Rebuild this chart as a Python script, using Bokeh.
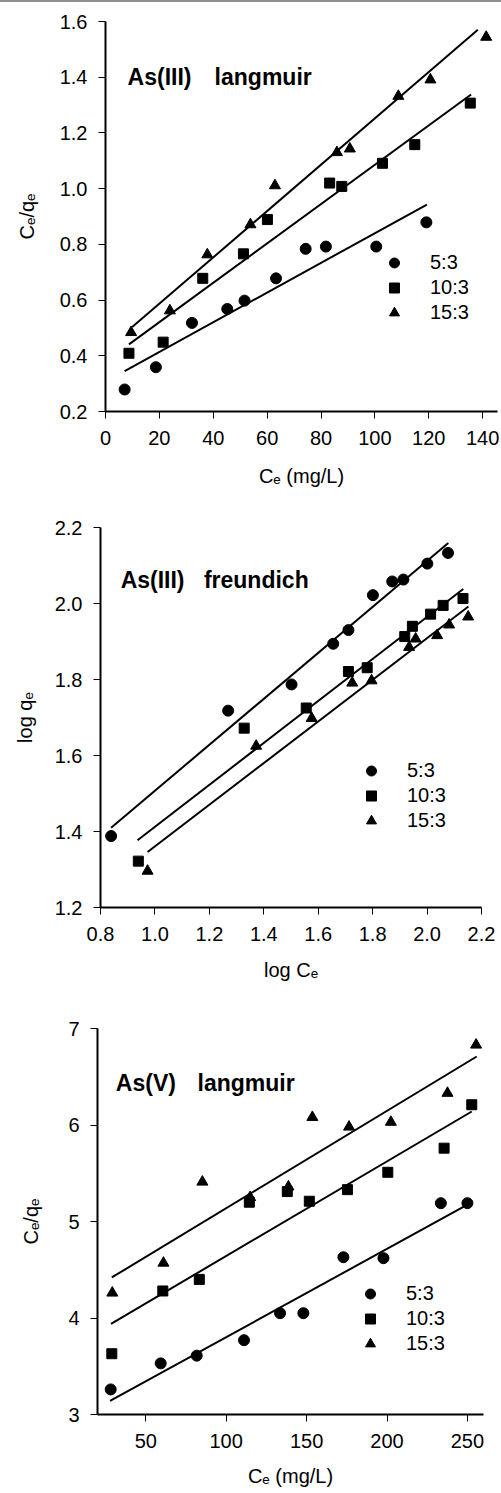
from bokeh.plotting import figure
from bokeh.models import Range1d, FixedTicker, NumeralTickFormatter, Legend, LegendItem, Label, Div
from bokeh.embed import file_html
from bokeh.resources import INLINE

FONT = "Liberation Sans"
SERIES = ["5:3", "10:3", "15:3"]

# ---- As(III) Langmuir: Ce vs Ce/qe ----
l3_ci_x = [7.1, 18.7, 32.1, 45.2, 51.6, 63.3, 74.3, 81.8, 100.5, 119.1]
l3_ci_y = [0.279, 0.359, 0.518, 0.568, 0.598, 0.678, 0.784, 0.792, 0.792, 0.879]
l3_sq_x = [8.7, 21.4, 36.1, 51.2, 60.1, 83.2, 87.7, 102.8, 114.8, 135.4]
l3_sq_y = [0.409, 0.449, 0.678, 0.766, 0.889, 1.020, 1.008, 1.091, 1.158, 1.307]
l3_tr_x = [9.5, 23.9, 37.8, 53.8, 62.9, 85.9, 90.7, 108.7, 120.6, 141.3]
l3_tr_y = [0.484, 0.562, 0.763, 0.871, 1.011, 1.130, 1.143, 1.332, 1.391, 1.544]
l3_fit_ci = ([7.1, 119.3], [0.345, 0.943])
l3_fit_sq = ([8.7, 135.7], [0.441, 1.338])
l3_fit_tr = ([9.9, 138.2], [0.503, 1.570])
l3_xticks = [0, 20, 40, 60, 80, 100, 120, 140]
l3_yticks = [0.2, 0.4, 0.6, 0.8, 1.0, 1.2, 1.4, 1.6]

# ---- As(III) Freundlich: log Ce vs log qe ----
f3_ci_x = [0.839, 1.269, 1.502, 1.655, 1.711, 1.801, 1.872, 1.913, 2.001, 2.077]
f3_ci_y = [1.388, 1.718, 1.787, 1.894, 1.930, 2.022, 2.058, 2.063, 2.105, 2.133]
f3_sq_x = [0.939, 1.328, 1.556, 1.711, 1.780, 1.918, 1.946, 2.013, 2.059, 2.132]
f3_sq_y = [1.322, 1.672, 1.725, 1.821, 1.831, 1.913, 1.940, 1.972, 1.995, 2.013]
f3_tr_x = [0.973, 1.372, 1.576, 1.725, 1.796, 1.934, 1.958, 2.037, 2.081, 2.151]
f3_tr_y = [1.296, 1.625, 1.698, 1.791, 1.797, 1.885, 1.907, 1.916, 1.944, 1.965]
f3_fit_ci = ([0.839, 2.078], [1.410, 2.159])
f3_fit_sq = ([0.936, 2.133], [1.377, 2.038])
f3_fit_tr = ([0.973, 2.152], [1.346, 1.992])
f3_xticks = [0.8, 1.0, 1.2, 1.4, 1.6, 1.8, 2.0, 2.2]
f3_yticks = [1.2, 1.4, 1.6, 1.8, 2.0, 2.2]

# ---- As(V) Langmuir: Ce vs Ce/qe ----
l5_ci_x = [28.2, 59.3, 81.7, 111.1, 133.5, 148.0, 172.9, 197.8, 233.5, 250.0]
l5_ci_y = [3.26, 3.53, 3.61, 3.77, 4.05, 4.05, 4.63, 4.62, 5.19, 5.19]
l5_sq_x = [28.9, 60.6, 83.3, 114.4, 138.0, 151.7, 175.4, 200.5, 235.5, 252.7]
l5_sq_y = [3.63, 4.28, 4.40, 5.20, 5.31, 5.21, 5.33, 5.51, 5.76, 6.21]
l5_tr_x = [29.2, 61.0, 85.2, 114.9, 138.7, 153.6, 176.4, 202.4, 237.6, 255.4]
l5_tr_y = [4.26, 4.57, 5.41, 5.25, 5.36, 6.08, 5.98, 6.03, 6.33, 6.83]
l5_fit_ci = ([27.8, 250.6], [3.14, 5.18])
l5_fit_sq = ([28.4, 252.7], [3.94, 6.14])
l5_fit_tr = ([28.9, 255.8], [4.42, 6.71])
l5_xticks = [50, 100, 150, 200, 250]
l5_yticks = [3, 4, 5, 6, 7]


def style_axes(p, xticks, yticks, xfmt, yfmt, xlabel, ylabel, xlab_standoff, ylab_standoff):
    p.xgrid.visible = False
    p.ygrid.visible = False
    p.outline_line_color = None
    p.xaxis.ticker = FixedTicker(ticks=xticks)
    p.yaxis.ticker = FixedTicker(ticks=yticks)
    p.xaxis.formatter = NumeralTickFormatter(format=xfmt)
    p.yaxis.formatter = NumeralTickFormatter(format=yfmt)
    for ax in (p.xaxis[0], p.yaxis[0]):
        ax.axis_line_width = 2
        ax.axis_line_color = "black"
        ax.major_tick_line_width = 1
        ax.major_tick_line_color = "black"
        ax.major_tick_out = 7
        ax.major_tick_in = 0
        ax.minor_tick_line_color = None
        ax.major_label_text_font = FONT
        ax.major_label_text_font_size = "20px"
        ax.major_label_text_color = "black"
        ax.axis_label_text_font = FONT
        ax.axis_label_text_font_size = "20px"
        ax.axis_label_text_font_style = "normal"
        ax.axis_label_text_color = "black"
    p.xaxis.major_label_standoff = 12
    p.yaxis.major_label_standoff = 11
    p.xaxis.axis_label = xlabel
    p.yaxis.axis_label = ylabel
    p.xaxis.axis_label_standoff = xlab_standoff
    p.yaxis.axis_label_standoff = ylab_standoff


def add_series(p, data, fits, legend_xy):
    markers = [("circle", 11), ("square", 10), ("triangle", 11)]
    items = []
    for (xs, ys), (fx, fy), (mk, sz), name in zip(data, fits, markers, SERIES):
        p.line(fx, fy, line_color="black", line_width=2)
        r = p.scatter(xs, ys, marker=mk, size=sz, fill_color="black", line_color="black")
        items.append(LegendItem(label=name, renderers=[r]))
    # wide glyph box: the swatch sits in its middle, the label starts at its right edge
    leg = Legend(items=items, location=legend_xy, orientation="vertical",
                 glyph_width=72, glyph_height=25, label_height=25,
                 label_standoff=0, spacing=0, padding=0, margin=0,
                 border_line_color=None, background_fill_alpha=0,
                 label_text_font=FONT, label_text_font_size="20px",
                 label_text_color="black")
    p.add_layout(leg)


def add_title(p, parts):
    for x, y, text in parts:
        p.add_layout(Label(x=x, y=y, text=text, text_font=FONT, text_font_size="23px",
                           text_font_style="bold", text_baseline="middle",
                           text_align="left", text_color="black"))


def panel(height, borders, xr, yr):
    top, right, bottom, left = borders
    return figure(width=501, height=height, x_range=Range1d(*xr), y_range=Range1d(*yr),
                  output_backend="svg", toolbar_location=None,
                  min_border_top=top, min_border_right=right,
                  min_border_bottom=bottom, min_border_left=left,
                  background_fill_color="white", border_fill_color="white")


# thin grey rule along the top edge of the page
rule = Div(text="", width=501, height=2, margin=(0, 0, 0, 0),
           styles={"background-color": "#8f8f8f"})

# As(III) Langmuir
p1 = panel(498, (19, 4, 89, 105), (0, 145.5), (0.2, 1.6))
style_axes(p1, l3_xticks, l3_yticks, "0", "0.0", "C\u2091 (mg/L)", "C\u2091/q\u2091", 17, 19)
add_series(p1, [(l3_ci_x, l3_ci_y), (l3_sq_x, l3_sq_y), (l3_tr_x, l3_tr_y)],
           [l3_fit_ci, l3_fit_sq, l3_fit_tr], (253, 86))
add_title(p1, [(8.2, 1.399, "As(III)"), (40.5, 1.399, "langmuir")])

# As(III) Freundlich
p2 = panel(500, (27, 20, 93, 100), (0.8, 2.2), (1.2, 2.2))
style_axes(p2, f3_xticks, f3_yticks, "0.0", "0.0", "log C\u2091", "log q\u2091", 15, 16)
add_series(p2, [(f3_ci_x, f3_ci_y), (f3_sq_x, f3_sq_y), (f3_tr_x, f3_tr_y)],
           [f3_fit_ci, f3_fit_sq, f3_fit_tr], (235, 74))
add_title(p2, [(0.874, 2.063, "As(III)"), (1.180, 2.063, "freundich")])

# As(V) Langmuir
p3 = panel(493, (28, 18, 79, 97), (20, 260), (3, 7))
style_axes(p3, l5_xticks, l5_yticks, "0", "0", "C\u2091 (mg/L)", "C\u2091/q\u2091", 14, 23)
add_series(p3, [(l5_ci_x, l5_ci_y), (l5_sq_x, l5_sq_y), (l5_tr_x, l5_tr_y)],
           [l5_fit_ci, l5_fit_sq, l5_fit_tr], (237, 58))
add_title(p3, [(31.4, 6.436, "As(V)"), (82.2, 6.436, "langmuir")])

# each panel is its own root so their frames are laid out independently
open("out.html", "w").write(file_html([rule, p1, p2, p3], INLINE))
